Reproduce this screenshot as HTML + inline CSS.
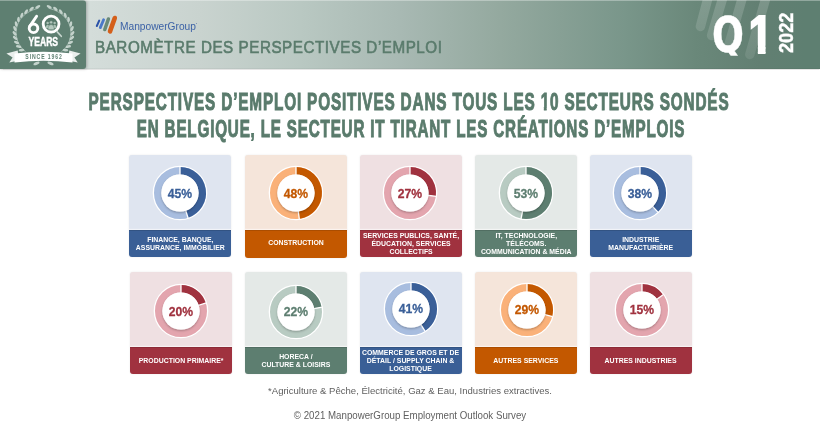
<!DOCTYPE html>
<html><head><meta charset="utf-8">
<style>
*{margin:0;padding:0;box-sizing:border-box}
html,body{width:820px;height:429px;overflow:hidden;background:#fff}
body{will-change:transform}
body{position:relative;font-family:"Liberation Sans", Arial, sans-serif}
#hdr{position:absolute;left:0;top:0;width:820px;height:69px;
background:linear-gradient(90deg,#d4ddda 90px,#d3dcd9 100px,#c9d3cf 200px,#b9c8c2 300px,#a8b9b3 400px,#94a99f 500px,#79968a 625px,#6a887a 695px,#627f72 760px,#5e7f71 805px,#5e7f71 820px);
box-shadow:0 0.5px 1px rgba(0,0,0,0.10), inset 0 -1px 0 rgba(0,0,0,0.04)}
#topline{position:absolute;left:0;top:0;width:820px;height:1.2px;background:rgba(255,255,255,0.32)}
#logo{position:absolute;left:0;top:0;width:86.2px;height:68.5px;background:#5e7f71;border-radius:0 3.5px 3px 0;box-shadow:1px 0 3px rgba(0,0,0,0.25)}
.card{position:absolute;width:102.0px;height:101.8px;border-radius:3px;box-shadow:0 0 2px rgba(0,0,0,0.10);overflow:hidden}
.dn{position:absolute;left:21.0px;top:8px}
.pct{position:absolute;left:0;width:100%;text-align:center;font-weight:bold;font-size:13.5px;line-height:14px;transform:scaleX(0.9);-webkit-text-stroke:0.3px currentColor}
.band{position:absolute;left:0;bottom:0;width:100%;height:27.2px;display:flex;align-items:center;justify-content:center;box-shadow:0 -1.2px 0 rgba(255,255,255,0.55), inset 0 1px 0 rgba(0,0,0,0.12)}
.bt{color:#fff;font-weight:bold;font-size:7.2px;line-height:8.2px;text-align:center;white-space:nowrap;transform:translateY(0.8px) scaleX(0.96)}
.t1{display:inline-block;line-height:24px;clip-path:polygon(-50% -50%,150% -50%,150% 71%,64.5% 71%,64.5% 150%,34.5% 150%,34.5% 71%,-50% 71%)}
.tl{position:absolute;left:-290px;width:1400px;text-align:center;color:#5a7b6c;font-weight:bold;font-size:24px;line-height:30px;letter-spacing:1.3px;white-space:nowrap;transform:scaleX(0.655);transform-origin:700px 50%;-webkit-text-stroke:1.0px #587a6b}
#mpg{position:absolute;left:120px;top:17px;font-size:10.2px;line-height:14px;color:#3c62a6;white-space:nowrap}
#mpg sup{font-size:3px;vertical-align:5px}
#baro{position:absolute;left:95px;top:37.1px;font-size:16.9px;line-height:22px;letter-spacing:0.6px;color:#5a7b6c;white-space:nowrap;transform:scaleX(0.90);transform-origin:0 50%;-webkit-text-stroke:0.6px #5a7b6c}
#q1{position:absolute;left:712px;top:7.3px;font-size:53.5px;line-height:52px;font-weight:bold;color:#fff;white-space:nowrap;transform:scaleX(0.8);transform-origin:0 0;-webkit-text-stroke:2.2px #fff}
#q1 .q{display:inline-block;vertical-align:top;position:relative;top:1.7px;font-family:"DejaVu Sans","Liberation Sans",sans-serif;font-size:49.5px;line-height:52px;-webkit-text-stroke:0.4px #fff;clip-path:inset(-10px -10px 5.3px -10px);transform:scaleX(0.95);transform-origin:0 0}
#q1 .one{display:inline-block;vertical-align:top;position:relative;top:1.8px;margin-left:3.9px;line-height:52px;clip-path:polygon(-20% -20%,120% -20%,120% 70.5%,70.4% 70.5%,70.4% 100%,38.1% 100%,38.1% 70.5%,-20% 70.5%)}
#yr{position:absolute;left:777px;top:53px;font-size:19.3px;line-height:19px;font-weight:bold;color:#fff;white-space:nowrap;transform:rotate(-90deg) scaleX(0.94);transform-origin:0 0;-webkit-text-stroke:0.45px #fff}
.foot{position:absolute;left:0;width:820px;text-align:center;color:#5f5f5f;font-size:9.7px;white-space:nowrap}
#f1{font-size:9.56px;top:385px}
#f2{top:409.5px;font-size:10.4px;transform:scaleX(0.935)}
</style></head><body>
<svg width="0" height="0" style="position:absolute"><defs>
<filter id="sh" x="-30%" y="-30%" width="160%" height="160%"><feDropShadow dx="0" dy="1.2" stdDeviation="1.1" flood-color="#000" flood-opacity="0.28"/></filter>
</defs></svg>
<div id="hdr"></div>
<div id="logo"><svg width="87" height="69" viewBox="0 0 87 69" style="position:absolute;left:0;top:0">
<g fill="none" stroke="#b3c6bd" stroke-width="0.75"><path d="M25.5,51.5 C12.0,42 10.5,15 38.5,8.2"/><path d="M61.5,51.5 C75.0,42 76.5,15 48.5,8.2"/></g>
<g fill="#c3d2cb"><ellipse cx="21.52" cy="50.12" rx="2.8" ry="1.35" transform="rotate(-181.1 21.52 50.12)"/><ellipse cx="65.48" cy="50.12" rx="2.8" ry="1.35" transform="rotate(361.1 65.48 50.12)"/><ellipse cx="18.69" cy="46.55" rx="2.8" ry="1.35" transform="rotate(-167.0 18.69 46.55)"/><ellipse cx="68.31" cy="46.55" rx="2.8" ry="1.35" transform="rotate(347.0 68.31 46.55)"/><ellipse cx="16.56" cy="42.48" rx="2.8" ry="1.35" transform="rotate(-153.6 16.56 42.48)"/><ellipse cx="70.44" cy="42.48" rx="2.8" ry="1.35" transform="rotate(333.6 70.44 42.48)"/><ellipse cx="15.18" cy="38.04" rx="2.8" ry="1.35" transform="rotate(-140.5 15.18 38.04)"/><ellipse cx="71.82" cy="38.04" rx="2.8" ry="1.35" transform="rotate(320.5 71.82 38.04)"/><ellipse cx="14.61" cy="33.37" rx="2.8" ry="1.35" transform="rotate(-127.4 14.61 33.37)"/><ellipse cx="72.39" cy="33.37" rx="2.8" ry="1.35" transform="rotate(307.4 72.39 33.37)"/><ellipse cx="14.91" cy="28.61" rx="2.8" ry="1.35" transform="rotate(-113.8 14.91 28.61)"/><ellipse cx="72.09" cy="28.61" rx="2.8" ry="1.35" transform="rotate(293.8 72.09 28.61)"/><ellipse cx="16.17" cy="23.91" rx="2.8" ry="1.35" transform="rotate(-99.6 16.17 23.91)"/><ellipse cx="70.83" cy="23.91" rx="2.8" ry="1.35" transform="rotate(279.6 70.83 23.91)"/><ellipse cx="18.43" cy="19.44" rx="2.8" ry="1.35" transform="rotate(-84.9 18.43 19.44)"/><ellipse cx="68.57" cy="19.44" rx="2.8" ry="1.35" transform="rotate(264.9 68.57 19.44)"/><ellipse cx="21.74" cy="15.34" rx="2.8" ry="1.35" transform="rotate(-69.9 21.74 15.34)"/><ellipse cx="65.26" cy="15.34" rx="2.8" ry="1.35" transform="rotate(249.9 65.26 15.34)"/><ellipse cx="26.12" cy="11.77" rx="2.8" ry="1.35" transform="rotate(-55.2 26.12 11.77)"/><ellipse cx="60.88" cy="11.77" rx="2.8" ry="1.35" transform="rotate(235.2 60.88 11.77)"/><ellipse cx="31.60" cy="8.86" rx="2.8" ry="1.35" transform="rotate(-41.4 31.60 8.86)"/><ellipse cx="55.40" cy="8.86" rx="2.8" ry="1.35" transform="rotate(221.4 55.40 8.86)"/><ellipse cx="37.79" cy="6.81" rx="2.8" ry="1.35" transform="rotate(-29.4 37.79 6.81)"/><ellipse cx="49.21" cy="6.81" rx="2.8" ry="1.35" transform="rotate(209.4 49.21 6.81)"/><ellipse cx="36.5" cy="63.4" rx="3.3" ry="1.4" transform="rotate(-22 36.5 63.4)"/><ellipse cx="50.5" cy="63.4" rx="3.3" ry="1.4" transform="rotate(22 50.5 63.4)"/></g>
<circle cx="33.5" cy="28.3" r="4.3" fill="none" stroke="#fff" stroke-width="2.9"/>
<line x1="36.6" y1="16.2" x2="29.9" y2="26.1" stroke="#fff" stroke-width="2.9" stroke-linecap="round"/>
<circle cx="51.1" cy="24.1" r="6.5" fill="#56786a"/>
<circle cx="51.1" cy="24.1" r="7.9" fill="none" stroke="#fff" stroke-width="2.8"/>
<line x1="57.2" y1="31.9" x2="61.3" y2="36.3" stroke="#c9d7d0" stroke-width="1.6" stroke-linecap="round"/>
<g fill="#a9c0b4">
<circle cx="47.6" cy="22.9" r="1.25"/><circle cx="54.6" cy="22.9" r="1.25"/>
<path d="M45.6,28.2 Q45.8,24.7 47.6,24.7 Q49.4,24.7 49.6,28.2 Z"/>
<path d="M52.6,28.2 Q52.8,24.7 54.6,24.7 Q56.4,24.7 56.6,28.2 Z"/>
<circle cx="51.1" cy="22.3" r="1.5" fill="#b5c9bf" stroke="#56786a" stroke-width="0.4"/>
<path d="M48.0,29.7 Q48.2,24.6 51.1,24.6 Q54.0,24.6 54.2,29.7 Z" fill="#b5c9bf" stroke="#56786a" stroke-width="0.4"/>
</g>
<text x="43.3" y="45.9" text-anchor="middle" font-family="Liberation Sans, Arial, sans-serif" font-weight="bold" font-size="12.6" fill="#fff" stroke="#fff" stroke-width="0.45" textLength="29.6" lengthAdjust="spacingAndGlyphs">YEARS</text>
<path d="M6.4,53.4 L17.7,50.4 L19,60.5 L9.3,62.4 L12.6,57.4 Z" fill="#e9eeec"/>
<path d="M80.6,53.4 L69.3,50.4 L68,60.5 L77.7,62.4 L74.4,57.4 Z" fill="#e9eeec"/>
<path d="M14.5,53.4 Q43.5,50.2 72.5,53.4 L72.5,62.4 Q43.5,59.2 14.5,62.4 Z" fill="#fff"/>
<g transform="translate(43.6 58.9) scale(0.78 1)"><text x="0" y="0" text-anchor="middle" font-family="Liberation Sans, Arial, sans-serif" font-weight="bold" font-size="6.6" fill="#5e7f71" textLength="46.8" lengthAdjust="spacing">SINCE 1962</text></g>
</svg></div>
<div id="topline"></div>
<svg width="820" height="69" viewBox="0 0 820 69" style="position:absolute;left:0;top:0">
<defs><linearGradient id="sg" gradientUnits="userSpaceOnUse" x1="0" y1="0" x2="0" y2="60"><stop offset="0" stop-color="#fff" stop-opacity="0.17"/><stop offset="1" stop-color="#fff" stop-opacity="0.09"/></linearGradient></defs>
<g stroke="url(#sg)" stroke-width="9.4" stroke-linecap="round">
<line x1="709.5" y1="-8" x2="700.4" y2="26.5"/>
<line x1="724.5" y1="-8" x2="711.6" y2="35.5"/>
<line x1="744" y1="-8" x2="728.5" y2="46"/>
<line x1="767.5" y1="-8" x2="749.8" y2="54.5"/>
</g>
<g stroke-linecap="round">
<line x1="96.8" y1="26.0" x2="99.2" y2="20.6" stroke="#2a52a8" stroke-width="2.0"/>
<line x1="100.3" y1="27.6" x2="103.6" y2="19.8" stroke="#4a78c8" stroke-width="2.8"/>
<line x1="104.8" y1="29.5" x2="108.4" y2="19.0" stroke="#6a8a78" stroke-width="3.5"/>
<line x1="110.0" y1="31.4" x2="114.8" y2="18.0" stroke="#d45f1a" stroke-width="4.6"/>
</g>
</svg>
<div id="mpg">ManpowerGroup<sup>&#8226;</sup></div>
<div id="baro">BAROMÈTRE DES PERSPECTIVES D’EMPLOI</div>
<div id="q1"><span class="q">Q</span><span class="one">1</span></div>
<div id="yr">2022</div>
<div class="tl" style="top:86.8px;margin-left:-1px;transform:scaleX(0.639)">PERSPECTIVES D’EMPLOI POSITIVES DANS TOUS LES <span class="t1">1</span>0 SECTEURS SONDÉS</div>
<div class="tl" style="top:114px;margin-left:1px;transform:scaleX(0.6335)">EN BELGIQUE, LE SECTEUR IT TIRANT LES CRÉATIONS D’EMPLOIS</div>
<div class="card" style="left:129.2px;top:155.0px;background:#dfe5f0">
<svg class="dn" style="top:8.3px;left:21.0px" width="60" height="60" viewBox="0 0 60 60">
<circle cx="30" cy="30" r="27.3" fill="#fff"/>
<circle cx="30" cy="30" r="22.30" fill="none" stroke="#a8bddf" stroke-width="7.40"/>
<path d="M30.00,4.00 A26.0,26.0 0 0 1 38.03,54.73 L35.75,47.69 A18.6,18.6 0 0 0 30.00,11.40 Z" fill="#3a5f98"/>
<line x1="30" y1="30" x2="30.00" y2="3.50" stroke="#fff" stroke-width="1.3"/>
<line x1="30" y1="30" x2="38.19" y2="55.20" stroke="#fff" stroke-width="1.3"/>
<circle cx="30" cy="30" r="18.60" fill="#fff" filter="url(#sh)"/>
</svg>
<div class="pct" style="color:#3a5f98;top:31.6px;left:0px">45%</div>
<div class="band" style="background:#3a5f96"><div class="bt" style="margin-top:0px">FINANCE, BANQUE,<br>ASSURANCE, IMMOBILIER</div></div>
</div>
<div class="card" style="left:244.79999999999998px;top:155.0px;height:102.5px;background:#f5e5da">
<svg class="dn" style="top:8.3px;left:21.4px" width="60" height="60" viewBox="0 0 60 60">
<circle cx="30" cy="30" r="27.3" fill="#fff"/>
<circle cx="30" cy="30" r="22.30" fill="none" stroke="#fab179" stroke-width="7.40"/>
<path d="M30.00,4.00 A26.0,26.0 0 0 1 33.26,55.79 L32.33,48.45 A18.6,18.6 0 0 0 30.00,11.40 Z" fill="#c35800"/>
<line x1="30" y1="30" x2="30.00" y2="3.50" stroke="#fff" stroke-width="1.3"/>
<line x1="30" y1="30" x2="33.32" y2="56.29" stroke="#fff" stroke-width="1.3"/>
<circle cx="30" cy="30" r="18.60" fill="#fff" filter="url(#sh)"/>
</svg>
<div class="pct" style="color:#c35800;top:31.6px;left:0.4px">48%</div>
<div class="band" style="height:27.4px;background:#c35800"><div class="bt" style="margin-top:-2.6px">CONSTRUCTION</div></div>
</div>
<div class="card" style="left:359.8px;top:155.0px;background:#efe0e2">
<svg class="dn" style="top:8.4px;left:20.3px" width="60" height="60" viewBox="0 0 60 60">
<circle cx="30" cy="30" r="27.3" fill="#fff"/>
<circle cx="30" cy="30" r="22.30" fill="none" stroke="#e3a5ae" stroke-width="7.40"/>
<path d="M30.00,4.00 A26.0,26.0 0 0 1 55.79,33.26 L48.45,32.33 A18.6,18.6 0 0 0 30.00,11.40 Z" fill="#a0323f"/>
<line x1="30" y1="30" x2="30.00" y2="3.50" stroke="#fff" stroke-width="1.3"/>
<line x1="30" y1="30" x2="56.29" y2="33.32" stroke="#fff" stroke-width="1.3"/>
<circle cx="30" cy="30" r="18.60" fill="#fff" filter="url(#sh)"/>
</svg>
<div class="pct" style="color:#a0323f;top:31.7px;left:-0.7px">27%</div>
<div class="band" style="background:#a0323f"><div class="bt" style="margin-top:0px">SERVICES PUBLICS, SANTÉ,<br>ÉDUCATION, SERVICES<br>COLLECTIFS</div></div>
</div>
<div class="card" style="left:475.0px;top:155.0px;background:#e4e9e7">
<svg class="dn" style="top:8.3px;left:20.8px" width="60" height="60" viewBox="0 0 60 60">
<circle cx="30" cy="30" r="27.3" fill="#fff"/>
<circle cx="30" cy="30" r="22.30" fill="none" stroke="#b8cbc2" stroke-width="7.40"/>
<path d="M30.00,4.00 A26.0,26.0 0 1 1 25.13,55.54 L26.51,48.27 A18.6,18.6 0 1 0 30.00,11.40 Z" fill="#5d7e70"/>
<line x1="30" y1="30" x2="30.00" y2="3.50" stroke="#fff" stroke-width="1.3"/>
<line x1="30" y1="30" x2="25.03" y2="56.03" stroke="#fff" stroke-width="1.3"/>
<circle cx="30" cy="30" r="18.60" fill="#fff" filter="url(#sh)"/>
</svg>
<div class="pct" style="color:#5d7e70;top:31.6px;left:-0.2px">53%</div>
<div class="band" style="background:#5d7e70"><div class="bt" style="margin-top:0px">IT, TECHNOLOGIE,<br>TÉLÉCOMS.<br>COMMUNICATION &amp; MÉDIA</div></div>
</div>
<div class="card" style="left:590.0px;top:155.0px;background:#dfe5f0">
<svg class="dn" style="top:8.3px;left:20.0px" width="60" height="60" viewBox="0 0 60 60">
<circle cx="30" cy="30" r="27.3" fill="#fff"/>
<circle cx="30" cy="30" r="22.30" fill="none" stroke="#a8bddf" stroke-width="7.40"/>
<path d="M30.00,4.00 A26.0,26.0 0 0 1 47.80,48.95 L42.73,43.56 A18.6,18.6 0 0 0 30.00,11.40 Z" fill="#3a5f98"/>
<line x1="30" y1="30" x2="30.00" y2="3.50" stroke="#fff" stroke-width="1.3"/>
<line x1="30" y1="30" x2="48.14" y2="49.32" stroke="#fff" stroke-width="1.3"/>
<circle cx="30" cy="30" r="18.60" fill="#fff" filter="url(#sh)"/>
</svg>
<div class="pct" style="color:#3a5f98;top:31.6px;left:-1px">38%</div>
<div class="band" style="background:#3a5f96"><div class="bt" style="margin-top:0px">INDUSTRIE<br>MANUFACTURIÈRE</div></div>
</div>
<div class="card" style="left:129.89999999999998px;top:271.6px;height:102.4px;background:#efe0e2">
<svg class="dn" style="top:9.9px;left:21.0px" width="60" height="60" viewBox="0 0 60 60">
<circle cx="30" cy="30" r="27.3" fill="#fff"/>
<circle cx="30" cy="30" r="22.30" fill="none" stroke="#e3a5ae" stroke-width="7.40"/>
<path d="M30.00,4.00 A26.0,26.0 0 0 1 54.73,21.97 L47.69,24.25 A18.6,18.6 0 0 0 30.00,11.40 Z" fill="#a0323f"/>
<line x1="30" y1="30" x2="30.00" y2="3.50" stroke="#fff" stroke-width="1.3"/>
<line x1="30" y1="30" x2="55.20" y2="21.81" stroke="#fff" stroke-width="1.3"/>
<circle cx="30" cy="30" r="18.60" fill="#fff" filter="url(#sh)"/>
</svg>
<div class="pct" style="color:#a0323f;top:33.2px;left:0px">20%</div>
<div class="band" style="background:#a0323f"><div class="bt" style="margin-top:-1.0px">PRODUCTION PRIMAIRE*</div></div>
</div>
<div class="card" style="left:244.7px;top:271.6px;height:102.4px;background:#e4e9e7">
<svg class="dn" style="top:10.0px;left:21.7px" width="60" height="60" viewBox="0 0 60 60">
<circle cx="30" cy="30" r="27.3" fill="#fff"/>
<circle cx="30" cy="30" r="22.30" fill="none" stroke="#b8cbc2" stroke-width="7.40"/>
<path d="M30.00,4.00 A26.0,26.0 0 0 1 55.54,25.13 L48.27,26.51 A18.6,18.6 0 0 0 30.00,11.40 Z" fill="#5d7e70"/>
<line x1="30" y1="30" x2="30.00" y2="3.50" stroke="#fff" stroke-width="1.3"/>
<line x1="30" y1="30" x2="56.03" y2="25.03" stroke="#fff" stroke-width="1.3"/>
<circle cx="30" cy="30" r="18.60" fill="#fff" filter="url(#sh)"/>
</svg>
<div class="pct" style="color:#5d7e70;top:33.3px;left:0.7px">22%</div>
<div class="band" style="background:#5d7e70"><div class="bt" style="margin-top:0px">HORECA /<br>CULTURE &amp; LOISIRS</div></div>
</div>
<div class="card" style="left:359.8px;top:271.6px;height:102.4px;background:#dfe5f0">
<svg class="dn" style="top:7.6px;left:21.0px" width="60" height="60" viewBox="0 0 60 60">
<circle cx="30" cy="30" r="27.3" fill="#fff"/>
<circle cx="30" cy="30" r="22.30" fill="none" stroke="#a8bddf" stroke-width="7.40"/>
<path d="M30.00,4.00 A26.0,26.0 0 0 1 43.93,51.95 L39.97,45.70 A18.6,18.6 0 0 0 30.00,11.40 Z" fill="#3a5f98"/>
<line x1="30" y1="30" x2="30.00" y2="3.50" stroke="#fff" stroke-width="1.3"/>
<line x1="30" y1="30" x2="44.20" y2="52.37" stroke="#fff" stroke-width="1.3"/>
<circle cx="30" cy="30" r="18.60" fill="#fff" filter="url(#sh)"/>
</svg>
<div class="pct" style="color:#3a5f98;top:30.900000000000002px;left:0px">41%</div>
<div class="band" style="background:#3a5f96"><div class="bt" style="margin-top:0px">COMMERCE DE GROS ET DE<br>DÉTAIL / SUPPLY CHAIN &amp;<br>LOGISTIQUE</div></div>
</div>
<div class="card" style="left:475.0px;top:271.6px;height:102.4px;background:#f5e5da">
<svg class="dn" style="top:8.4px;left:21.8px" width="60" height="60" viewBox="0 0 60 60">
<circle cx="30" cy="30" r="27.3" fill="#fff"/>
<circle cx="30" cy="30" r="22.30" fill="none" stroke="#fab179" stroke-width="7.40"/>
<path d="M30.00,4.00 A26.0,26.0 0 0 1 55.18,36.47 L48.02,34.63 A18.6,18.6 0 0 0 30.00,11.40 Z" fill="#c35800"/>
<line x1="30" y1="30" x2="30.00" y2="3.50" stroke="#fff" stroke-width="1.3"/>
<line x1="30" y1="30" x2="55.67" y2="36.59" stroke="#fff" stroke-width="1.3"/>
<circle cx="30" cy="30" r="18.60" fill="#fff" filter="url(#sh)"/>
</svg>
<div class="pct" style="color:#c35800;top:31.7px;left:0.8px">29%</div>
<div class="band" style="background:#c35800"><div class="bt" style="margin-top:0px">AUTRES SERVICES</div></div>
</div>
<div class="card" style="left:590.0px;top:271.6px;height:102.4px;background:#efe0e2">
<svg class="dn" style="top:8.3px;left:21.6px" width="60" height="60" viewBox="0 0 60 60">
<circle cx="30" cy="30" r="27.3" fill="#fff"/>
<circle cx="30" cy="30" r="22.30" fill="none" stroke="#e3a5ae" stroke-width="7.40"/>
<path d="M30.00,4.00 A26.0,26.0 0 0 1 51.03,14.72 L45.05,19.07 A18.6,18.6 0 0 0 30.00,11.40 Z" fill="#a0323f"/>
<line x1="30" y1="30" x2="30.00" y2="3.50" stroke="#fff" stroke-width="1.3"/>
<line x1="30" y1="30" x2="51.44" y2="14.42" stroke="#fff" stroke-width="1.3"/>
<circle cx="30" cy="30" r="18.60" fill="#fff" filter="url(#sh)"/>
</svg>
<div class="pct" style="color:#a0323f;top:31.6px;left:0.6px">15%</div>
<div class="band" style="background:#a0323f"><div class="bt" style="margin-top:0px">AUTRES INDUSTRIES</div></div>
</div>
<div class="foot" id="f1">*Agriculture &amp; Pêche, Électricité, Gaz &amp; Eau, Industries extractives.</div>
<div class="foot" id="f2">© 2021 ManpowerGroup Employment Outlook Survey</div>
</body></html>
